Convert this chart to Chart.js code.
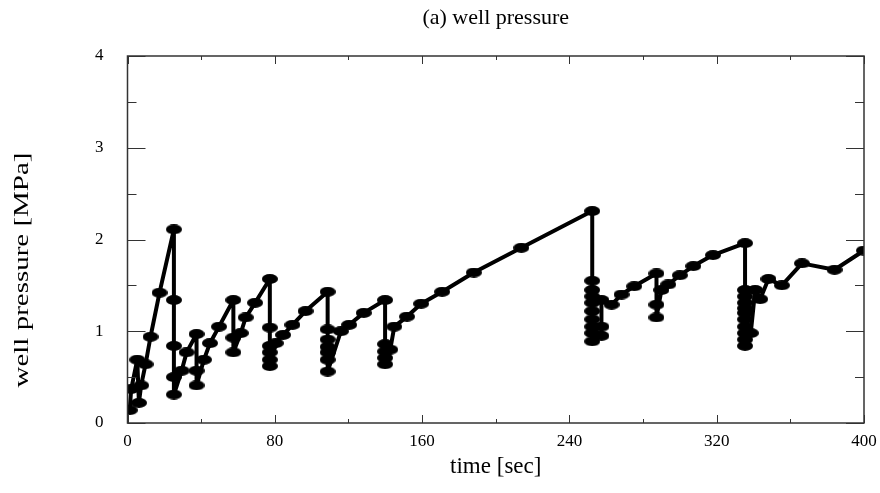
<!DOCTYPE html>
<html>
<head>
<meta charset="utf-8">
<script src="https://cdn.jsdelivr.net/npm/chart.js@4/dist/chart.umd.min.js"></script>
<style>
  html, body { margin: 0; padding: 0; background: #fff; }
</style>
</head>
<body>
<canvas id="chart" width="880" height="493"></canvas>
<script>
// time [sec] of each sample
const times = [
  1.2, 2.0, 5.3, 6.2, 7.4, 9.8, 12.5, 17.4,
  25.2, 25.2, 25.2, 25.2, 25.2,
  29.4, 32.1,
  37.5, 37.5, 37.5,
  41.5, 44.8, 49.7,
  57.5, 57.5, 57.5,
  61.5, 64.2, 69.3,
  77.3, 77.3, 77.3, 77.3, 77.3, 77.3,
  80.5, 84.5, 89.6, 96.7,
  108.7, 108.7, 108.7, 108.7, 108.7, 108.7, 108.7,
  115.9, 120.4, 128.3,
  139.9, 139.9, 139.9, 139.9, 139.9,
  142.7, 144.9, 151.8, 159.5, 170.9, 188.1, 213.9,
  252.4, 252.4, 252.4, 252.4, 252.4, 252.4, 252.4, 252.4, 252.4, 252.4,
  257.4, 257.4, 257.4,
  262.9, 268.3, 275.2,
  287.3, 287.3, 287.3,
  290.0, 293.7, 300.0, 307.3, 318.0,
  335.4, 335.4, 335.4, 335.4, 335.4, 335.4, 335.4, 335.4, 335.4, 335.4, 335.4,
  338.5, 340.9, 343.6, 348.1, 355.4, 366.3, 384.0, 400.0
];

// well pressure [MPa]
const pressures = [
  0.14, 0.37, 0.69, 0.22, 0.41, 0.64, 0.94, 1.42,
  2.11, 1.34, 0.84, 0.50, 0.31,
  0.57, 0.77,
  0.97, 0.57, 0.41,
  0.69, 0.87, 1.05,
  1.34, 0.93, 0.77,
  0.98, 1.15, 1.31,
  1.57, 1.04, 0.84, 0.77, 0.69, 0.62,
  0.87, 0.96, 1.07, 1.22,
  1.43, 1.02, 0.91, 0.83, 0.77, 0.69, 0.56,
  1.00, 1.07, 1.20,
  1.34, 0.86, 0.78, 0.71, 0.64,
  0.80, 1.05, 1.16, 1.30, 1.43, 1.64, 1.91,
  2.31, 1.55, 1.45, 1.38, 1.31, 1.22, 1.13, 1.05, 0.98, 0.89,
  0.95, 1.05, 1.34,
  1.29, 1.40, 1.49,
  1.63, 1.29, 1.15,
  1.45, 1.51, 1.61, 1.71, 1.83,
  1.96, 1.45, 1.38, 1.31, 1.25, 1.20, 1.13, 1.05, 0.98, 0.91, 0.84,
  0.98, 1.45, 1.35, 1.57, 1.50, 1.74, 1.67, 1.88
];

const xTickLabels = [0, 80, 160, 240, 320, 400];
const yTickLabels = [0, 1, 2, 3, 4];

const serif = '"Liberation Serif", "DejaVu Serif", serif';

// filled ellipse used as the point marker
function ellipseMarker(w, h) {
  const c = document.createElement('canvas');
  c.width = w;
  c.height = h;
  const g = c.getContext('2d');
  g.fillStyle = '#000';
  g.beginPath();
  g.ellipse(w / 2, h / 2, w / 2, h / 2, 0, 0, Math.PI * 2);
  g.fill();
  return c;
}

// box round the plot with inward ticks on all four sides
const framePlugin = {
  id: 'frame',
  afterDatasetsDraw(chart) {
    const {ctx, chartArea: a, scales} = chart;
    ctx.save();
    ctx.strokeStyle = '#333';
    ctx.lineWidth = 1;
    ctx.beginPath();
    scales.x.ticks.forEach(t => {
      const px = Math.round(scales.x.getPixelForValue(t.value)) + 0.5;
      const len = xTickLabels.includes(t.value) ? 8 : 4;
      ctx.moveTo(px, a.bottom); ctx.lineTo(px, a.bottom - len);
      ctx.moveTo(px, a.top); ctx.lineTo(px, a.top + len);
    });
    scales.y.ticks.forEach(t => {
      const py = Math.round(scales.y.getPixelForValue(t.value)) + 0.5;
      const len = yTickLabels.includes(t.value) ? 18 : 9;
      ctx.moveTo(a.left, py); ctx.lineTo(a.left + len, py);
      ctx.moveTo(a.right, py); ctx.lineTo(a.right - len, py);
    });
    ctx.stroke();
    ctx.lineWidth = 1.5;
    ctx.strokeRect(a.left, a.top, a.right - a.left, a.bottom - a.top);
    ctx.restore();
  },
  afterDraw(chart) {
    // y axis title, drawn stretched like the original
    const {ctx} = chart;
    ctx.save();
    ctx.translate(22, 270);
    ctx.rotate(-Math.PI / 2);
    ctx.scale(1.38, 1);
    ctx.font = '21px ' + serif;
    ctx.fillStyle = '#000';
    ctx.textAlign = 'center';
    ctx.textBaseline = 'middle';
    ctx.fillText('well pressure [MPa]', 0, 0);
    ctx.restore();
  }
};

new Chart(document.getElementById('chart'), {
  type: 'line',
  data: {
    datasets: [{
      data: times.map((t, i) => ({x: t, y: pressures[i]})),
      borderColor: '#000',
      borderWidth: 4,
      borderJoinStyle: 'round',
      borderCapStyle: 'round',
      tension: 0,
      pointStyle: ellipseMarker(16, 10),
      pointRadius: 5
    }]
  },
  options: {
    responsive: false,
    animation: false,
    layout: { padding: { left: 0, right: 16, top: 0, bottom: 0 } },
    plugins: {
      legend: { display: false },
      tooltip: { enabled: false },
      title: {
        display: true,
        fullSize: false,
        text: '(a) well pressure',
        color: '#000',
        font: { family: serif, size: 22, weight: 'normal' },
        padding: { top: 5, bottom: 24.6 }
      }
    },
    scales: {
      x: {
        type: 'linear',
        min: 0,
        max: 400,
        grid: { display: false, drawTicks: false },
        border: { display: false },
        ticks: {
          stepSize: 40,
          autoSkip: false,
          maxRotation: 0,
          padding: 8,
          color: '#000',
          font: { family: serif, size: 17 },
          callback: v => xTickLabels.includes(v) ? String(v) : ''
        },
        title: {
          display: true,
          text: 'time [sec]',
          color: '#000',
          font: { family: serif, size: 23 },
          padding: { top: 12, bottom: 12 }
        },
        afterFit(s) {
          s.height = 70;
          s.paddingLeft = 0;
          s.paddingRight = 0;
        }
      },
      y: {
        min: 0,
        max: 4,
        grid: { display: false, drawTicks: false },
        border: { display: false },
        ticks: {
          stepSize: 0.5,
          autoSkip: false,
          padding: 24,
          color: '#000',
          font: { family: serif, size: 17 },
          callback: v => yTickLabels.includes(v) ? String(v) : ''
        },
        afterFit(s) {
          s.width = 127.5;
          s.paddingTop = 0;
          s.paddingBottom = 0;
        }
      }
    }
  },
  plugins: [framePlugin]
});
</script>
</body>
</html>
